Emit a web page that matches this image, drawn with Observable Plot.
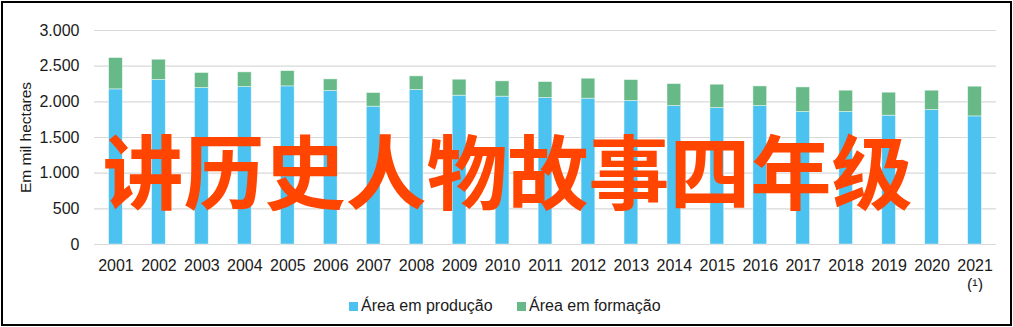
<!DOCTYPE html>
<html>
<head>
<meta charset="utf-8">
<script src="https://cdn.jsdelivr.net/npm/d3@7"></script>
<script src="https://cdn.jsdelivr.net/npm/@observablehq/plot@0.6"></script>
<style>
  body { margin: 0; background: #fff; font-family: "Liberation Sans", Arial, sans-serif; }
  #wrap { position: relative; width: 1013px; height: 327px; overflow: hidden; }
  #chart { position: absolute; left: 0; top: 0; }
  #border { position: absolute; left: 1px; top: 1px; width: 1011px; height: 325px; box-sizing: border-box; border: 2px solid #000; pointer-events: none; }
  .lg { position: absolute; top: 296px; height: 20px; display: flex; align-items: center; font-size: 16px; color: #1a1a1a; white-space: nowrap; }
  .sw { width: 9px; height: 9px; margin-right: 3px; display: inline-block; }
</style>
</head>
<body>
<div id="wrap">
  <div id="chart"></div>
  <div id="legend"></div>
  <div id="border"></div>
</div>
<script>
const years = ["2001","2002","2003","2004","2005","2006","2007","2008","2009","2010","2011","2012","2013","2014","2015","2016","2017","2018","2019","2020","2021"];
const producao = [2175,2306,2193,2207,2217,2151,1932,2165,2086,2072,2053,2044,2011,1941,1913,1941,1857,1857,1806,1885,1796];
const formacao = [439,284,211,206,214,164,191,192,224,215,224,280,294,308,327,275,345,299,322,271,416];
const seriesNames = ["Área em produção", "Área em formação"];
const seriesColors = ["#4BC2EF", "#67BA87"];
const yTicks = [0, 500, 1000, 1500, 2000, 2500, 3000];
const tickNotes = [["2021", "(¹)"]];
const yLabel = ["Em mil hectares"];
const overlay = ["讲历史人物故事四年级"];

const data = [];
years.forEach((y, i) => data.push({year: y, series: seriesNames[0], value: producao[i]}));
years.forEach((y, i) => data.push({year: y, series: seriesNames[1], value: formacao[i]}));
const notes = new Map(tickNotes);

const locale = d3.formatLocale({decimal: ",", thousands: ".", grouping: [3], currency: ["", ""]});
const fmt = locale.format(",d");

const chart = Plot.plot({
  width: 1013,
  height: 292,
  marginLeft: 94,
  marginRight: 17,
  marginTop: 30,
  marginBottom: 48,
  style: {fontFamily: "'Liberation Sans', Arial, sans-serif", fontSize: "16px", color: "#1a1a1a", background: "transparent"},
  x: {domain: years, paddingInner: 0.68, paddingOuter: 0.34, round: false, label: null},
  y: {domain: [0, 3000], label: null},
  color: {domain: seriesNames, range: seriesColors},
  marks: [
    Plot.ruleY(yTicks, {stroke: "#d9d9d9", strokeWidth: 1.2}),
    Plot.barY(data, {x: "year", y: "value", fill: "series", stroke: "#ffffff", strokeOpacity: 0.55, strokeWidth: 0.8}),
    Plot.axisY({ticks: yTicks, tickSize: 0, tickPadding: 15, tickFormat: fmt, fontSize: 16, label: null}),
    Plot.axisX({tickSize: 0, tickPadding: 13, fontSize: 16, lineHeight: 1.2, label: null,
      tickFormat: d => notes.has(d) ? d + "\n" + notes.get(d) : d}),
    Plot.text(yLabel, {frameAnchor: "left", text: d => d, rotate: -90, dx: -68, textAnchor: "middle", fontSize: 15.5, fill: "#1a1a1a"}),
    Plot.text(overlay, {frameAnchor: "middle", text: d => d, dx: -38, dy: 40, fontSize: 81, fontWeight: 700,
      fontFamily: "'Noto Sans CJK SC', sans-serif", fill: "#FF4500"})
  ]
});
document.getElementById("chart").appendChild(chart);

const legend = document.getElementById("legend");
const lefts = [349, 517];
seriesNames.forEach((name, i) => {
  const item = document.createElement("div");
  item.className = "lg";
  item.style.left = lefts[i] + "px";
  item.innerHTML = `<span class="sw" style="background:${seriesColors[i]}"></span><span>${name}</span>`;
  legend.appendChild(item);
});
</script>
</body>
</html>
